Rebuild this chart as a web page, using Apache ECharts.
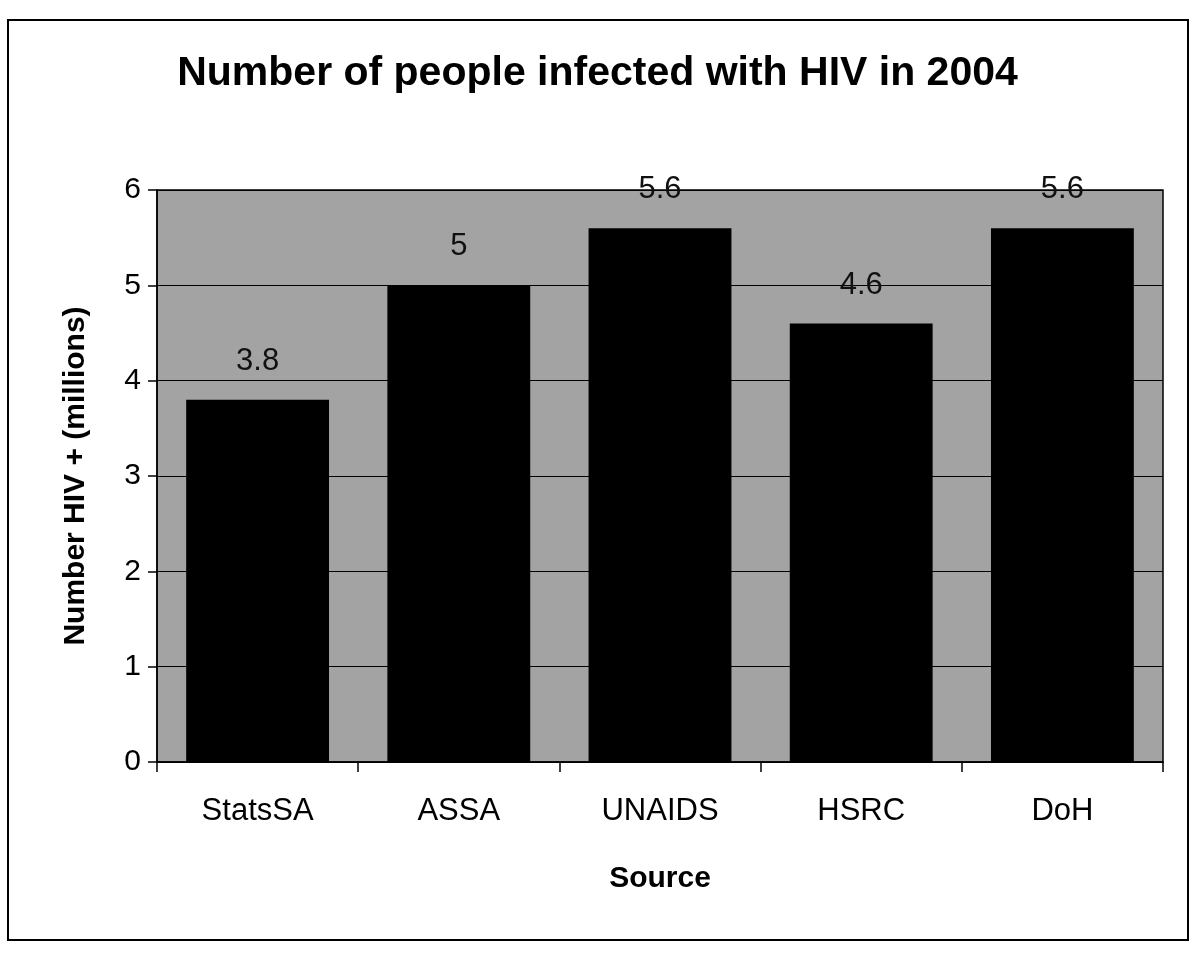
<!DOCTYPE html>
<html>
<head>
<meta charset="utf-8">
<script src="https://cdn.jsdelivr.net/npm/echarts@6/dist/echarts.min.js"></script>
<style>
  html, body { margin: 0; padding: 0; background: #fff; }
  #chart { width: 1195px; height: 958px; }
</style>
</head>
<body>
<div id="chart"></div>
<script>
var sources = ['StatsSA', 'ASSA', 'UNAIDS', 'HSRC', 'DoH'];
var infected = [3.8, 5, 5.6, 4.6, 5.6];
var yTicks = [0, 1, 2, 3, 4, 5, 6];

var chart = echarts.init(document.getElementById('chart'));

var option = {
    animation: false,
    backgroundColor: '#fff',
    textStyle: { fontFamily: 'Liberation Sans, Arial, sans-serif', color: '#000' },
    title: {
        text: 'Number of people infected with HIV in 2004',
        left: 'center',
        top: 48,
        textStyle: { fontSize: 41, fontWeight: 'bold', color: '#000' }
    },
    // outer chart frame
    graphic: [{
        type: 'rect',
        shape: { x: 8, y: 20, width: 1180, height: 920 },
        style: { fill: 'none', stroke: '#000', lineWidth: 2 },
        silent: true
    }],
    grid: {
        left: 157,
        right: 32,
        top: 190,
        bottom: 196,
        show: true,
        backgroundColor: '#a3a3a3',
        borderColor: '#000',
        borderWidth: 1.5
    },
    xAxis: {
        type: 'category',
        data: sources,
        name: 'Source',
        nameLocation: 'middle',
        nameGap: 102,
        nameTextStyle: { fontSize: 30, fontWeight: 'bold', color: '#000' },
        axisLine: { lineStyle: { color: '#000', width: 1.5 } },
        axisTick: { show: true, length: 10, lineStyle: { color: '#000', width: 1.5 } },
        axisLabel: { fontSize: 31, color: '#000', margin: 34 }
    },
    yAxis: {
        type: 'value',
        min: yTicks[0],
        max: yTicks[yTicks.length - 1],
        interval: 1,
        name: 'Number HIV + (millions)',
        nameLocation: 'middle',
        nameGap: 66,
        nameTextStyle: { fontSize: 30, fontWeight: 'bold', color: '#000' },
        axisLine: { show: true, lineStyle: { color: '#000', width: 1.5 } },
        axisTick: { show: true, length: 9, lineStyle: { color: '#000', width: 1.5 } },
        axisLabel: { fontSize: 30, color: '#000', margin: 16 },
        splitLine: { show: true, lineStyle: { color: '#000', width: 1 } }
    },
    series: [{
        type: 'bar',
        data: infected,
        barWidth: '71%',
        itemStyle: { color: '#000' },
        label: {
            show: true,
            position: 'top',
            distance: 23,
            fontSize: 31,
            color: '#111'
        }
    }]
};

chart.setOption(option);
</script>
</body>
</html>
